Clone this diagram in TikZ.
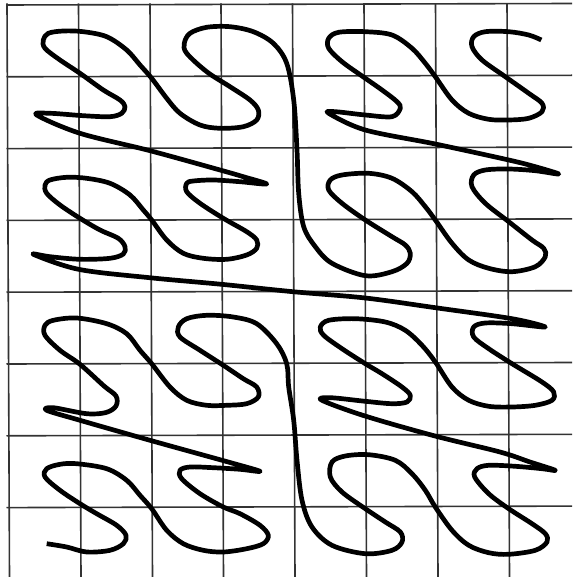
\documentclass[tikz,border=0pt]{standalone}
\begin{document}
\begin{tikzpicture}[x=0.5pt,y=-0.5pt]
\tikzset{gridline/.style={line width=0.8pt, black!80},
  curveline/.style={line width=2.35pt, line join=round}}
\useasboundingbox (0,0) rectangle (572,577);
\fill[white] (0,0) rectangle (572,577);
\foreach \x in {7,78.5,150,221,292.5,364,435.5,507}
  \draw[gridline] (\x,3.5) -- ({\x+2.5},577);
\foreach \y in {5,76.8,148.6,220.4,292.2,364,435.8,507.6}
  \draw[gridline] (6.5,\y) -- (572,{\y-1.5});
\draw[curveline] plot[smooth,tension=0.55] coordinates {
(46.7,543.7) (66.7,547) (86.7,552) (110,550.3) (123.3,543.7) (126,535.3) (116.7,525.3) (96.7,513.7) (80,503.7) (60,490.3) (45,477) (46.7,468.7) (60,464.3) (76.7,463.7) (106.7,468.7) (126.7,480.3) (140,495.3) (151.7,508.7) (166.7,530.3) (183.3,543.7) (203.3,550.3) (223.3,552) (246.7,548.7) (263.3,543.7) (268.3,535.3) (260,525.3) (240,513.7) (223.3,507) (200,493.7) (181.7,478.7) (180,470.3) (190,467) (213.3,467.7) (240,469.3) (260,471.3)
(230,462.5) (150,440.3) (80,420.3) (46.7,410.3)
(53.3,407.7) (86.7,413.7) (106,412.5) (116,406) (116,396) (104,386) (80,364.3) (60,350.3) (45,335.3) (45,325.3) (53.3,320.3) (76.7,318) (106.7,323.7) (126.7,333.7) (140,350.3) (151.7,363.7) (170,387) (186.7,400.3) (206.7,405.3) (226.7,405.3) (246.7,403.7) (258.3,397) (256.7,387) (243.3,378.7) (223.3,365.3) (200,350.3) (180,337) (178.3,327) (186.7,318.7) (206.7,315.3) (233.3,317) (256.7,323.7) (276.7,343.7) (286.7,363.7)
(288.7,387) (293.7,420.3) (297,460.3) (302,500.3) (312,527) (332,545.3) (365.3,553.7) (392,550.3) (402,542) (400.3,532) (385.3,522) (365.3,508.7) (342,492) (330.3,477) (332,462) (345.3,456) (368.7,454.7) (395.3,460.3) (412,473.7) (425.3,490.3) (435.3,507) (452,530.3) (468.7,545.3) (488.7,552.7) (508.7,554.3) (535.3,550.3) (547,542) (545.3,533.7) (532,523.7) (508.7,508.7) (488.7,493.7) (474.7,477) (477,468.7) (488.7,465.3) (515.3,466.3) (542,468.7) (555.3,470.3)
(530,462) (500,452) (435,436) (365,416) (322,400.3)
(330.3,397.7) (365.3,401.3) (392,403.7) (407,402) (410.3,395.3) (402,387) (382,373.7) (365.3,363.7) (342,348.7) (323.7,335.3) (320.3,327) (328.7,320.3) (355.3,318.7) (385.3,322) (405.3,330.3) (422,345.3) (435.3,362) (452,387) (468.7,400.3) (488.7,406.3) (512,407) (535.3,405.3) (552,400.3) (553.7,392) (542,382) (512,363.7) (488.7,348.7) (473.7,337) (473.7,327) (485.3,323) (512,323.7) (545.3,327)
(512,318.7) (435.3,307.7) (365.3,298) (292.9,291.7) (221.4,284.3) (149.6,277.7) (78.5,269.3) (33.3,254.3)
(50,256.7) (80,259.3) (110,258.3) (123.3,254) (125,246.7) (118.3,238.3) (100,230) (80,218.3) (60,205) (46.7,193.3) (45,185) (50,180) (66.7,177.3) (86.7,178.3) (110,183.3) (130,195) (143.3,210) (151.7,220) (166.7,240) (183.3,253.3) (203.3,258.3) (226.7,259.3) (246.7,255) (256.7,248.3) (256.7,240) (246.7,231.7) (223.3,218.3) (200,203.3) (186.7,191.7) (186.7,183.3) (193.3,181) (213.3,180) (240,181.7) (266.7,184)
(243.3,176.7) (220,170) (150,150.7) (80,133.3) (36.7,115)
(50,113.3) (83.3,115.7) (110,116.7) (121.7,113.3) (125,106.7) (120,100) (103.3,90) (80,73.3) (60,60) (45,48.3) (43.3,40) (48.3,33.3) (63.3,31) (83.3,31.7) (106.7,36.7) (126.7,50) (140,65) (151.7,78.3) (166.7,98.3) (180,113.3) (200,125) (220,128.3) (243.3,126.7) (256.7,120) (258.3,110) (250,100) (230,86.7) (206.7,71.7) (186.7,53.3) (184.3,43.3) (190,33.3) (206.7,27.3) (230,26.7) (253.3,31.7) (273.3,43.3) (286.7,63.3)
(293.7,100) (297,150) (298.7,193.3) (303.7,226.7) (315.3,246.7) (332,263.3) (365.3,275.7) (392,271.7) (407,263.3) (410.3,253.3) (405.3,245) (392,236.7) (365.3,220) (342,203.3) (328.7,190) (330.3,180) (342,175) (368.7,173.3) (392,178.3) (412,191.7) (425.3,206.7) (435.3,220) (452,243.3) (468.7,260) (488.7,268.3) (512,271.7) (535.3,266.7) (545.3,256.7) (543.7,248.3) (532,240) (508.7,221.7) (485.3,203.3) (472,186.7) (473.7,175) (485.3,170) (508.7,169) (535.3,170.7) (558.7,174)
(535.3,166.7) (508.7,160) (435.3,144) (365.3,130) (328.7,113.3)
(335.3,111.7) (365.3,115) (392,116.7) (400.3,108.3) (397,101.7) (382,90) (362,76) (342,61.7) (328.7,48.3) (328.7,38.3) (338.7,32.3) (365.3,31.7) (392,35) (412,48.3) (425.3,63.3) (435.3,76.7) (452,100) (468.7,113.3) (488.7,119.3) (508.7,120) (528.7,118.3) (542,111.7) (542,103.3) (528.7,93.3) (505.3,76.7) (482,60) (472,46.7) (473.7,36.7) (485.3,31.7) (508.7,31.7) (528.7,35) (541.3,40)
};
\end{tikzpicture}
\end{document}
